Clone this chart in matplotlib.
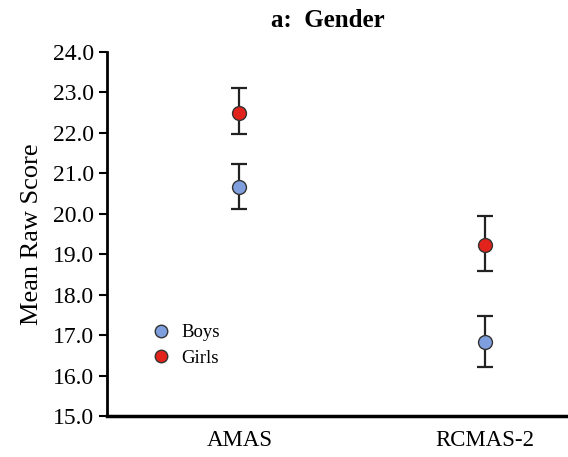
import matplotlib.pyplot as plt
from matplotlib.ticker import FormatStrFormatter

# values
categorias = ["AMAS", "RCMAS-2"]
boys_media = [20.67, 16.83]
boys_sup = [21.22, 17.48]
boys_inf = [20.13, 16.21]
girls_media = [22.50, 19.23]
girls_sup = [23.12, 19.95]
girls_inf = [21.97, 18.59]

plt.rcParams["font.family"] = ["Liberation Serif", "DejaVu Serif"]

fig = plt.figure(figsize=(5.68, 4.57), dpi=100)
ax = fig.add_axes([0.188, 0.0897, 0.812, 0.7965])

x = list(range(len(categorias)))

def barras(media, sup, inf):
    return [[m - i for m, i in zip(media, inf)], [s - m for m, s in zip(media, sup)]]

ax.errorbar(x, boys_media, yerr=barras(boys_media, boys_sup, boys_inf), fmt="none",
            ecolor="#222222", elinewidth=1.6, capsize=6, capthick=1.6, zorder=2)
ax.errorbar(x, girls_media, yerr=barras(girls_media, girls_sup, girls_inf), fmt="none",
            ecolor="#222222", elinewidth=1.6, capsize=6, capthick=1.6, zorder=2)
ax.plot(x, boys_media, "o", ms=10, mfc="#7e9ede", mec="#333333", mew=1.0,
        ls="none", label="Boys", zorder=3)
ax.plot(x, girls_media, "o", ms=10, mfc="#e2231b", mec="#333333", mew=1.0,
        ls="none", label="Girls", zorder=3)

ax.set_xlim(-0.539, 1.337)
ax.set_ylim(15.0, 24.0)
ax.set_yticks([15, 16, 17, 18, 19, 20, 21, 22, 23, 24])
ax.yaxis.set_major_formatter(FormatStrFormatter("%.1f"))
ax.set_xticks(x)
ax.set_xticklabels(categorias, fontsize=16.5)
ax.tick_params(axis="x", length=0, pad=10)
ax.tick_params(axis="y", labelsize=17, length=6, width=1.5, direction="out", pad=3)

ax.spines["top"].set_visible(False)
ax.spines["right"].set_visible(False)
ax.spines["left"].set_linewidth(2)
ax.spines["bottom"].set_linewidth(2.5)

ax.set_ylabel("Mean Raw Score", fontsize=19, labelpad=7)
fig.text(0.578, 0.955, "a:  Gender", ha="center", va="center",
         fontsize=18, fontweight="bold")

ax.legend(loc="lower left", bbox_to_anchor=(0.06, 0.115), frameon=False,
          fontsize=13.5, handletextpad=0.1, labelspacing=0.45, borderaxespad=0,
          markerscale=0.9)

fig.savefig("out.png", dpi=100)
